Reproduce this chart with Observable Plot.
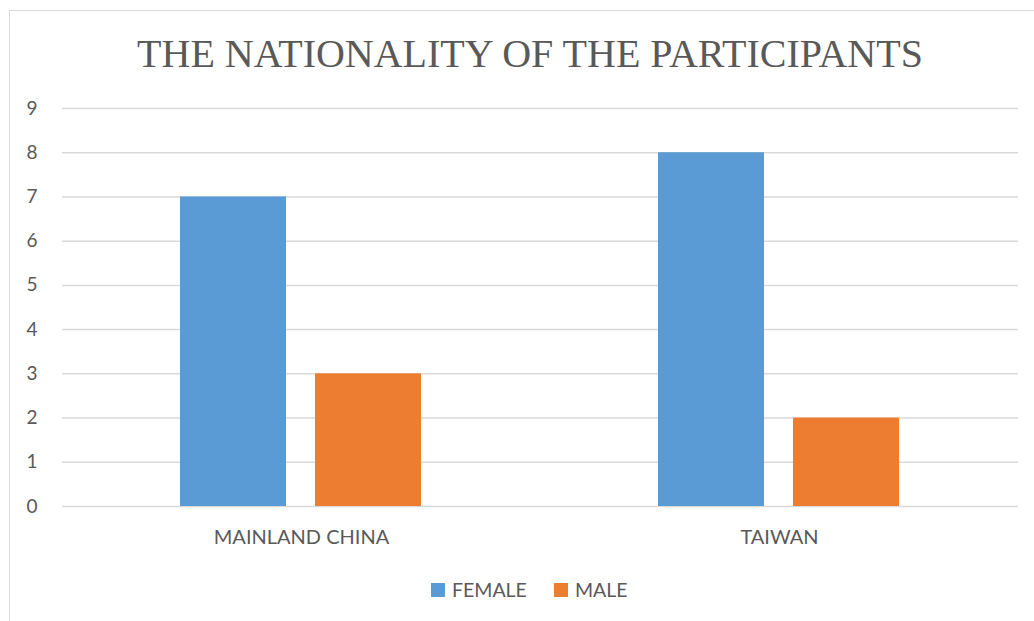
<!DOCTYPE html>
<html>
<head>
<meta charset="utf-8">
<script src="https://cdn.jsdelivr.net/npm/d3@7"></script>
<script src="https://cdn.jsdelivr.net/npm/@observablehq/plot@0.6"></script>
<style>
  html, body { margin: 0; padding: 0; background: #fff; width: 1034px; height: 621px; overflow: hidden; }
  #frame { position: absolute; left: 9px; top: 10px; width: 1040px; height: 640px; border: 1.5px solid #d9d9d9; box-sizing: border-box; background: #fff; }
  #title { position: absolute; left: 0; top: 19px; width: 1040px; text-align: center; font-family: "Liberation Serif", "Times New Roman", serif; font-size: 40px; color: #595959; white-space: nowrap; }
  #chart { position: absolute; left: -10px; top: 69px; }
  #legend { position: absolute; top: 567px; left: 421px; font-family: Lato, "Open Sans", sans-serif; font-size: 19.5px; color: #595959; display: flex; align-items: center; }
  .item { display: flex; align-items: center; margin-right: 27px; }
  .sw { width: 14px; height: 14px; margin-right: 7px; }
</style>
</head>
<body>
<div id="frame">
  <div id="title">THE NATIONALITY OF THE PARTICIPANTS</div>
  <div id="chart"></div>
  <div id="legend"></div>
</div>
<script>
const categories = ["MAINLAND CHINA", "TAIWAN"];
const seriesNames = ["FEMALE", "MALE"];
const female = [7, 8];
const male = [3, 2];
const colors = ["#5B9BD5", "#ED7D31"];
const yTicks = [0, 1, 2, 3, 4, 5, 6, 7, 8, 9];

const data = [];
categories.forEach((c, i) => {
  data.push({category: c, series: "FEMALE", value: female[i]});
  data.push({category: c, series: "MALE", value: male[i]});
});

const chart = Plot.plot({
  width: 1034,
  height: 480,
  marginLeft: 61,
  marginRight: 16,
  marginTop: 28,
  marginBottom: 54,
  style: { fontFamily: "Lato, 'Open Sans', sans-serif", fontSize: "19px", color: "#595959", background: "transparent" },
  fx: { domain: categories, padding: 0, label: null },
  x: { domain: seriesNames, paddingInner: 0.213, paddingOuter: 0.868, axis: null },
  y: { domain: [0, 9], ticks: yTicks, label: null },
  color: { domain: seriesNames, range: colors },
  marks: [
    Plot.gridY(yTicks, { stroke: "#d9d9d9", strokeOpacity: 1, strokeWidth: 1.5 }),
    Plot.barY(data, { fx: "category", x: "series", y: "value", fill: "series" }),
    Plot.axisY(yTicks, { tickSize: 0, tickPadding: 25, fontSize: 19, fill: "#595959" }),
    Plot.axisFx({ anchor: "bottom", tickSize: 0, tickPadding: 23, fontSize: 20, fill: "#595959", label: null })
  ]
});
document.getElementById("chart").appendChild(chart);

const legend = document.getElementById("legend");
seriesNames.forEach((s, i) => {
  const it = document.createElement("div");
  it.className = "item";
  const sw = document.createElement("div");
  sw.className = "sw";
  sw.style.background = colors[i];
  const t = document.createElement("span");
  t.textContent = s;
  it.appendChild(sw);
  it.appendChild(t);
  legend.appendChild(it);
});
</script>
</body>
</html>
